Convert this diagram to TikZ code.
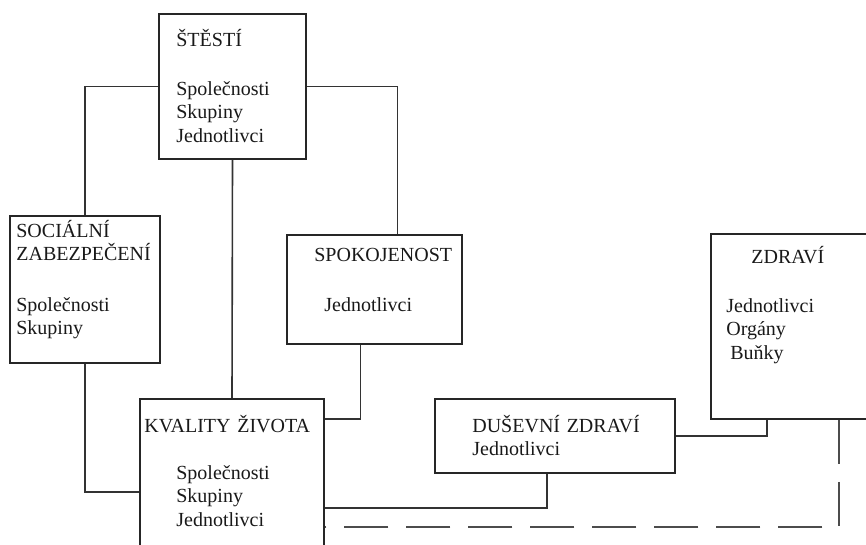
\documentclass[tikz,border=0pt]{standalone}
\usepackage{fontspec}
\setmainfont{Liberation Serif}
\usetikzlibrary{positioning,calc}

\begin{document}
\begin{tikzpicture}[x=1pt,y=-1pt,
    every node/.style={font=\fontsize{20}{23.5}\selectfont},
    box/.style={draw=black!85, line width=1.7pt, inner sep=0pt},
    lbl/.style={anchor=base west, inner sep=0pt, align=left, text width=200pt, text=black!90},
    link/.style={draw=black!80, line width=1.6pt},
    dashedlink/.style={draw=black!70, line width=1.6pt, dash pattern=on 44pt off 18pt}]
    \useasboundingbox (0,0) rectangle (866,545);
    % boxes
    \node[box, minimum width=147pt, minimum height=145pt] (stesti) at (232.5,86.5) {};
    \node[box, minimum width=150pt, minimum height=147pt] (social) at (85,289.5) {};
    \node[box, minimum width=175pt, minimum height=109pt] (spokoj) at (374.5,289.5) {};
    \node[box, minimum width=174pt, minimum height=185pt] (zdravi) at (798,326.5) {};
    \node[box, minimum width=184pt, minimum height=166pt] (kvalita) at (232,482) {};
    \node[box, minimum width=240pt, minimum height=74pt] (dusevni) at (555,436) {};
    % texts
    \node[lbl] (stesti-t) at ([xshift=18pt,yshift=-33pt]stesti.north west) {ŠTĚSTÍ};
    \node[lbl] (stesti-b) at ([xshift=18pt,yshift=-82pt]stesti.north west) {Společnosti\\Skupiny\\Jednotlivci};
    \node[lbl] (social-t) at ([xshift=7pt,yshift=-22pt]social.north west) {SOCIÁLNÍ\\ZABEZPEČENÍ};
    \node[lbl] (social-b) at ([xshift=7pt,yshift=-96pt]social.north west) {Společnosti\\Skupiny};
    \node[lbl] (spokoj-t) at ([xshift=28pt,yshift=-27pt]spokoj.north west) {SPOKOJENOST};
    \node[lbl] (spokoj-b) at ([xshift=38pt,yshift=-77pt]spokoj.north west) {Jednotlivci};
    \node[lbl] (zdravi-t) at ([xshift=41pt,yshift=-30pt]zdravi.north west) {ZDRAVÍ};
    \node[lbl] (zdravi-b) at ([xshift=16pt,yshift=-79pt]zdravi.north west) {Jednotlivci\\Orgány\\\hspace*{4pt}Buňky};
    \node[lbl] (kvalita-t) at ([xshift=5pt,yshift=-34pt]kvalita.north west) {KVALITY ŽIVOTA};
    \node[lbl] (kvalita-b) at ([xshift=37pt,yshift=-81pt]kvalita.north west) {Společnosti\\Skupiny\\Jednotlivci};
    \node[lbl] (dusevni-t) at ([xshift=38pt,yshift=-34pt]dusevni.north west) {DUŠEVNÍ ZDRAVÍ\\Jednotlivci};
    % connectors
    \draw[link] (stesti.west) -| (social.north);
    \draw[link] (stesti.east) -| ([xshift=23pt]spokoj.north);
    \draw[link] (stesti.south) -- (kvalita.north);
    \draw[link] (social.south) |- ([yshift=-10pt]kvalita.west);
    \draw[link] ([xshift=-14pt]spokoj.south) |- ([yshift=-21pt]kvalita.north east);
    \draw[link] ([yshift=-110pt]kvalita.north east) -| ([xshift=-8pt]dusevni.south);
    \draw[link] (dusevni.east) -| ([xshift=-31pt]zdravi.south);
    \draw[dashedlink] ([xshift=41pt]zdravi.south) |- ([yshift=-129pt]kvalita.north east);
\end{tikzpicture}
\end{document}
